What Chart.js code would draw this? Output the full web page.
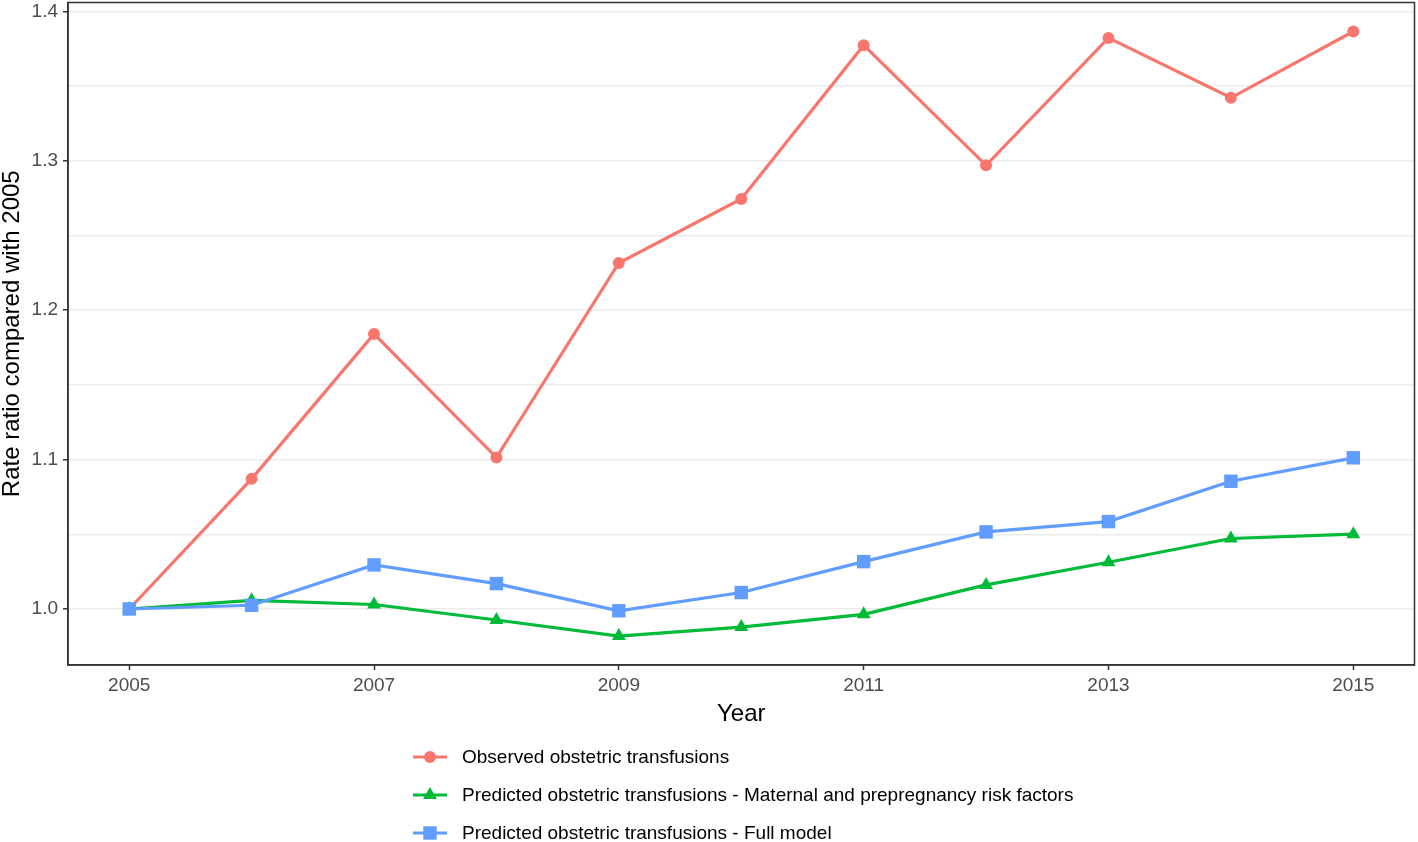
<!DOCTYPE html>
<html>
<head>
<meta charset="utf-8">
<script src="https://cdn.jsdelivr.net/npm/chart.js@4"></script>
<style>
  body { margin: 0; background: #fff; font-family: "Liberation Sans", Arial, sans-serif; overflow: hidden; }
  #wrap { position: relative; width: 1418px; height: 842px; overflow: hidden; }
  /* canvas is a bit larger than the page and shifted so the panel lands where ggplot put it */
  #chart { position: absolute; left: 0; top: -7px; }
  #legend { position: absolute; left: 413px; top: 738px; }
  .legend-item { height: 38px; display: flex; align-items: center; font-size: 19px; color: #000; }
  .legend-item canvas { margin-right: 15px; }
</style>
</head>
<body>
<div id="wrap">
  <canvas id="chart" width="1424" height="747"></canvas>
  <div id="legend"></div>
</div>
<script>
// years on the x axis
const years = [2005, 2006, 2007, 2008, 2009, 2010, 2011, 2012, 2013, 2014, 2015];
// rate ratio compared with 2005
const observed = [1.0, 1.0871, 1.1841, 1.1014, 1.2316, 1.2745, 1.3774, 1.2970, 1.3823, 1.3422, 1.3866];
const predictedMaternal = [1.0, 1.0058, 1.0030, 0.9926, 0.9819, 0.9879, 0.9964, 1.0161, 1.0313, 1.0472, 1.0501];
const predictedFull = [1.0, 1.0025, 1.0295, 1.0170, 0.9988, 1.0110, 1.0317, 1.0516, 1.0585, 1.0855, 1.1012];
const xTickYears = [2005, 2007, 2009, 2011, 2013, 2015];
const yMajorTicks = [1.0, 1.1, 1.2, 1.3, 1.4];

const seriesNames = [
  "Observed obstetric transfusions",
  "Predicted obstetric transfusions - Maternal and prepregnancy risk factors",
  "Predicted obstetric transfusions - Full model",
];

const fontFamily = '"Liberation Sans", Arial, sans-serif';

// major + minor (midway) grid values
const yGridValues = [];
yMajorTicks.forEach((v, i) => {
  yGridValues.push(v);
  if (i < yMajorTicks.length - 1) yGridValues.push((v + yMajorTicks[i + 1]) / 2);
});

const toPoints = (vals) => vals.map((v, i) => ({ x: years[i], y: v }));
const isMajor = (v) => yMajorTicks.some((m) => Math.abs(m - v) < 1e-6);

const makeSet = (label, values, color, style, radius, order) => ({
  label: label,
  data: toPoints(values),
  borderColor: color,
  backgroundColor: color,
  borderWidth: 3.2,
  pointStyle: style,
  pointRadius: radius,
  pointBorderWidth: 0,
  pointHoverRadius: radius,
  order: order,
  clip: false,
});

// ggplot style panel border around the plot area
const panelBorder = {
  id: "panelBorder",
  afterDraw(chart) {
    const { ctx, chartArea } = chart;
    ctx.save();
    ctx.strokeStyle = "#333333";
    ctx.lineWidth = 1.5;
    ctx.strokeRect(chartArea.left, chartArea.top, chartArea.right - chartArea.left, chartArea.bottom - chartArea.top);
    ctx.restore();
  },
};

const ctx = document.getElementById("chart").getContext("2d");
const chart = new Chart(ctx, {
  type: "line",
  data: {
    datasets: [
      makeSet(seriesNames[0], observed, "#F8766D", "circle", 6, 2),
      makeSet(seriesNames[1], predictedMaternal, "#00BA38", "triangle", 8, 1),
      makeSet(seriesNames[2], predictedFull, "#619CFF", "rect", 9.5, 0),
    ],
  },
  options: {
    responsive: false,
    animation: false,
    devicePixelRatio: 1,
    layout: { padding: { top: 3, right: 4, left: 0, bottom: 0 } },
    plugins: {
      legend: { display: false },
      tooltip: { enabled: false },
    },
    scales: {
      x: {
        type: "linear",
        min: 2004.5,
        max: 2015.5,
        afterBuildTicks: (scale) => {
          scale.ticks = xTickYears.map((v) => ({ value: v }));
        },
        afterFit: (scale) => {
          scale.height = 75;
          scale.paddingLeft = 0;
          scale.paddingRight = 0;
        },
        grid: {
          drawOnChartArea: false,
          drawTicks: true,
          tickLength: 5,
          tickColor: "#333333",
          tickWidth: 1.5,
        },
        border: { display: true, color: "#333333", width: 1.5 },
        ticks: {
          autoSkip: false,
          maxRotation: 0,
          padding: 4,
          color: "#4D4D4D",
          font: { family: fontFamily, size: 19 },
          callback: (value) => String(value),
        },
        title: {
          display: true,
          text: "Year",
          color: "#000",
          font: { family: fontFamily, size: 24, lineHeight: 1 },
          padding: { top: 0, bottom: 14 },
        },
      },
      y: {
        min: 0.9625,
        max: 1.406,
        afterBuildTicks: (scale) => {
          scale.ticks = yGridValues.map((v) => ({ value: v }));
        },
        afterFit: (scale) => {
          scale.width = 68;
          scale.paddingTop = 0;
          scale.paddingBottom = 0;
        },
        grid: {
          color: "#EBEBEB",
          lineWidth: 1.5,
          drawTicks: true,
          tickLength: 5,
          tickWidth: 1.5,
          tickColor: (c) => (c.tick && isMajor(c.tick.value) ? "#333333" : "rgba(0,0,0,0)"),
        },
        border: { display: true, color: "#333333", width: 1.5 },
        ticks: {
          autoSkip: false,
          padding: 5,
          color: "#4D4D4D",
          font: { family: fontFamily, size: 19 },
          callback: (value) => (isMajor(value) ? value.toFixed(1) : ""),
        },
        title: {
          display: true,
          text: "Rate ratio compared with 2005",
          color: "#000",
          font: { family: fontFamily, size: 24, lineHeight: 1 },
          padding: { top: 0, bottom: 0 },
        },
      },
    },
  },
  plugins: [panelBorder],
});

// legend below the plot, one entry per row like ggplot's bottom legend
const legendDiv = document.getElementById("legend");
chart.data.datasets.forEach((ds) => {
  const item = document.createElement("div");
  item.className = "legend-item";
  const key = document.createElement("canvas");
  key.width = 34;
  key.height = 24;
  const k = key.getContext("2d");
  k.strokeStyle = ds.borderColor;
  k.fillStyle = ds.backgroundColor;
  k.lineWidth = 3;
  k.beginPath();
  k.moveTo(0, 12);
  k.lineTo(34, 12);
  k.stroke();
  Chart.helpers.drawPoint(k, { pointStyle: ds.pointStyle, radius: ds.pointRadius, rotation: 0, borderWidth: 0 }, 17, 12);
  const label = document.createElement("span");
  label.textContent = ds.label;
  item.appendChild(key);
  item.appendChild(label);
  legendDiv.appendChild(item);
});
</script>
</body>
</html>
